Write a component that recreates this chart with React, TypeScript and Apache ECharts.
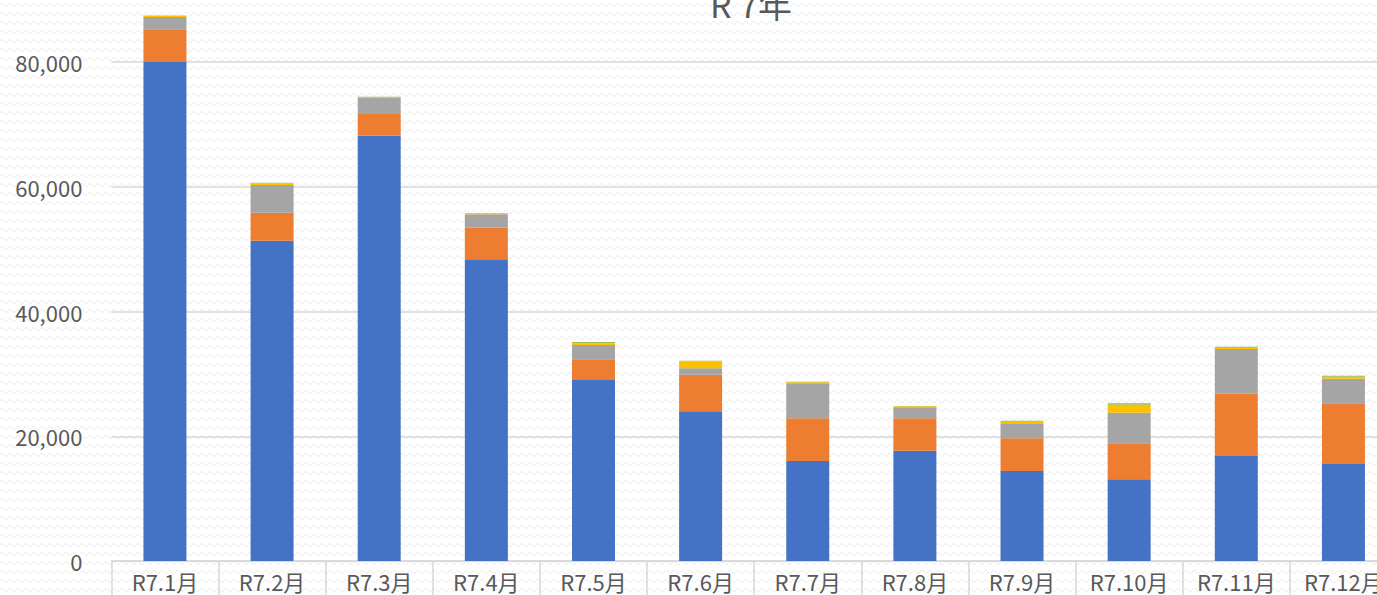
import React, { useEffect, useRef } from "react";
import * as echarts from "echarts";

const categories = ["R7.1月", "R7.2月", "R7.3月", "R7.4月", "R7.5月", "R7.6月", "R7.7月", "R7.8月", "R7.9月", "R7.10月", "R7.11月", "R7.12月"];
const seriesBlue = [80000, 51350, 68190, 48370, 29130, 24000, 16030, 17680, 14430, 13100, 16830, 15550];
const seriesOrange = [5240, 4490, 3470, 5070, 3210, 5870, 6850, 5200, 5240, 5770, 9990, 9730];
const seriesGray = [1970, 4440, 2620, 2140, 2290, 1020, 5610, 1760, 2290, 4910, 7170, 3950];
const seriesYellow = [210, 270, 40, 160, 270, 1130, 160, 160, 380, 1280, 210, 320];
const seriesGreen = [50, 100, 100, 50, 210, 100, 100, 50, 150, 220, 160, 160];
const yTicks = [0, 20000, 40000, 60000, 80000, 100000];
const titleText = "R 7年";

const FONT = "'Noto Sans CJK JP', 'Noto Sans', sans-serif";
const TEXT_COLOR = "#595959";
const LINE_COLOR = "#d9d9d9";

const SHIFT_Y = 80;
const CHART_W = 1430;
const CHART_H = 595 + SHIFT_Y;
const GRID_LEFT = 107;
const GRID_RIGHT_EDGE = 1397;

const patternSvg =
  "<svg xmlns='http://www.w3.org/2000/svg' width='8' height='9'><path d='M0 5 Q2 2 4 5 T8 5' fill='none' stroke='#eeeeee' stroke-width='1.1'/></svg>";
const patternUrl = "url(\"data:image/svg+xml;utf8," + encodeURIComponent(patternSvg) + "\")";

export default function App() {
  const ref = useRef<HTMLDivElement>(null);
  useEffect(() => {
    if (!ref.current) return;
    const chart = echarts.init(ref.current, undefined, { renderer: "svg" });
    const mk = (name: string, data: number[], color: string) => ({
      name,
      type: "bar",
      stack: "total",
      data,
      barWidth: 43,
      itemStyle: { color },
    });
    chart.setOption({
      animation: false,
      backgroundColor: "transparent",
      textStyle: { fontFamily: FONT },
      title: {
        text: titleText,
        left: 746,
        top: SHIFT_Y - 19,
        textAlign: "center",
        textStyle: { fontFamily: FONT, fontSize: 34, fontWeight: "normal", color: TEXT_COLOR },
      },
      grid: { left: GRID_LEFT, right: CHART_W - GRID_RIGHT_EDGE, top: SHIFT_Y - 62.75, bottom: 34, containLabel: false },
      xAxis: {
        type: "category",
        data: categories,
        boundaryGap: true,
        axisLine: { show: true, lineStyle: { color: LINE_COLOR, width: 1.5 } },
        axisTick: { show: true, interval: 0, length: 40, alignWithLabel: false, lineStyle: { color: LINE_COLOR, width: 1.5 } },
        axisLabel: { interval: 0, margin: 9, fontSize: 22, color: TEXT_COLOR, fontFamily: FONT },
      },
      yAxis: {
        type: "value",
        min: yTicks[0],
        max: yTicks[yTicks.length - 1],
        interval: yTicks[1] - yTicks[0],
        axisLine: { show: false },
        axisTick: { show: false },
        splitLine: { show: true, lineStyle: { color: LINE_COLOR, width: 1.5 } },
        axisLabel: {
          margin: 29,
          fontSize: 22,
          color: TEXT_COLOR,
          fontFamily: FONT,
          formatter: (v: number) => v.toLocaleString("en-US"),
        },
      },
      series: [
        mk("系列1", seriesBlue, "#4472C4"),
        mk("系列2", seriesOrange, "#ED7D31"),
        mk("系列3", seriesGray, "#A5A5A5"),
        mk("系列4", seriesYellow, "#FFC000"),
        mk("系列5", seriesGreen, "#9BBB59"),
      ],
    });
    return () => chart.dispose();
  }, []);
  return (
    <div
      style={{
        position: "absolute",
        left: 0,
        top: 0,
        width: 1377,
        height: 595,
        overflow: "hidden",
        backgroundColor: "#ffffff",
        backgroundImage: patternUrl,
      }}
    >
      <div
        ref={ref}
        style={{ position: "absolute", left: 0, top: -SHIFT_Y, width: CHART_W, height: CHART_H }}
      />
    </div>
  );
}
